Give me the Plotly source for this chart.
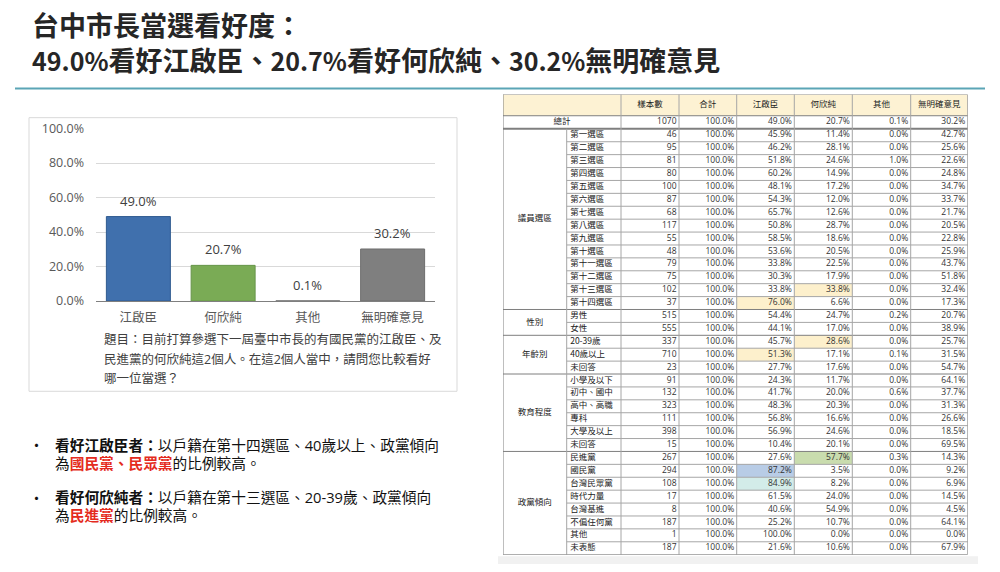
import plotly.graph_objects as go

# ---------------- data ----------------
CANDIDATES = ["江啟臣", "何欣純", "其他", "無明確意見"]
OVERALL = [49.0, 20.7, 0.1, 30.2]
BAR_COLORS = ["#4070ad", "#7aab55", "#7f7f7f", "#7f7f7f"]
BAR_EDGES = ["#2f5a8f", "#67954a", "#6e6e6e", "#6e6e6e"]

HEADERS = ["樣本數", "合計", "江啟臣", "何欣純", "其他", "無明確意見"]
TOTAL_ROW = ["1070", "100.0%", "49.0%", "20.7%", "0.1%", "30.2%"]

GROUP_NAMES = ["議員選區", "性別", "年齡別", "教育程度", "政黨傾向"]
GROUP_SIZES = [14, 2, 3, 6, 8]

ROW_LABELS = ["第一選區", "第二選區", "第三選區", "第四選區", "第五選區", "第六選區", "第七選區",
              "第八選區", "第九選區", "第十選區", "第十一選區", "第十二選區", "第十三選區", "第十四選區",
              "男性", "女性",
              "20-39歲", "40歲以上", "未回答",
              "小學及以下", "初中、國中", "高中、高職", "專科", "大學及以上", "未回答",
              "民進黨", "國民黨", "台灣民眾黨", "時代力量", "台灣基進", "不偏任何黨", "其他", "未表態"]
SAMPLE_N = [46, 95, 81, 80, 100, 87, 68, 117, 55, 48, 79, 75, 102, 37,
            515, 555,
            337, 710, 23,
            91, 132, 323, 111, 398, 15,
            267, 294, 108, 17, 8, 187, 1, 187]
TOTAL_PCT = [100.0] * 33
JIANG = [45.9, 46.2, 51.8, 60.2, 48.1, 54.3, 65.7, 50.8, 58.5, 53.6, 33.8, 30.3, 33.8, 76.0,
         54.4, 44.1,
         45.7, 51.3, 27.7,
         24.3, 41.7, 48.3, 56.8, 56.9, 10.4,
         27.6, 87.2, 84.9, 61.5, 40.6, 25.2, 100.0, 21.6]
HE = [11.4, 28.1, 24.6, 14.9, 17.2, 12.0, 12.6, 28.7, 18.6, 20.5, 22.5, 17.9, 33.8, 6.6,
      24.7, 17.0,
      28.6, 17.1, 17.6,
      11.7, 20.0, 20.3, 16.6, 24.6, 20.1,
      57.7, 3.5, 8.2, 24.0, 54.9, 10.7, 0.0, 10.6]
OTHER = [0.0, 0.0, 1.0, 0.0, 0.0, 0.0, 0.0, 0.0, 0.0, 0.0, 0.0, 0.0, 0.0, 0.0,
         0.2, 0.0,
         0.0, 0.1, 0.0,
         0.0, 0.6, 0.0, 0.0, 0.0, 0.0,
         0.3, 0.0, 0.0, 0.0, 0.0, 0.0, 0.0, 0.0]
NONE = [42.7, 25.6, 22.6, 24.8, 34.7, 33.7, 21.7, 20.5, 22.8, 25.9, 43.7, 51.8, 32.4, 17.3,
        20.7, 38.9,
        25.7, 31.5, 54.7,
        64.1, 37.7, 31.3, 26.6, 18.5, 69.5,
        14.3, 9.2, 6.9, 14.5, 4.5, 64.1, 0.0, 67.9]

# highlighted cells: (row index, column index in HEADERS, colour)
HIGHLIGHTS = [(12, 3, "#fdf0cc"), (13, 2, "#fdf0cc"), (16, 3, "#fdf0cc"), (17, 2, "#fdf0cc"),
              (25, 3, "#c9dcae"), (26, 2, "#b8cce6"), (27, 2, "#d3ece9")]

QUESTION = ["題目：目前打算參選下一屆臺中市長的有國民黨的江啟臣、及",
            "民進黨的何欣純這2個人。在這2個人當中，請問您比較看好",
            "哪一位當選？"]

# ---------------- layout constants ----------------
W, H = 1000, 572
CJK = "Noto Sans CJK TC"
NUM = "Open Sans, Noto Sans CJK TC"
def py(px):
    return 1 - px / H

COL_EDGES = [0, 63.7, 118, 176, 233.7, 291.3, 349.3, 407.7, 464.7]
HEAD_H, TOT_H, ROW_H = 22, 13.5, 13.3
TABLE_H = HEAD_H + TOT_H + ROW_H * len(ROW_LABELS)

fig = go.Figure()

# ---------------- bar chart ----------------
fig.add_trace(go.Bar(x=CANDIDATES, y=OVERALL, marker=dict(color=BAR_COLORS, line=dict(color=BAR_EDGES, width=1)),
                     xaxis="x", yaxis="y", hoverinfo="skip"))
annotations = []
for c, v in zip(CANDIDATES, OVERALL):
    annotations.append(dict(x=c, y=v, xref="x", yref="y", text=f"{v:.1f}%", showarrow=False,
                            yanchor="bottom", yshift=5, font=dict(family=NUM, size=13, color="#404040")))

# ---------------- table ----------------
def row_top(i):
    return HEAD_H + TOT_H + i * ROW_H

def cx(c):
    return (COL_EDGES[c] + COL_EDGES[c + 1]) / 2

shapes = []
# header fill
shapes.append(dict(type="rect", xref="x2", yref="y2", x0=COL_EDGES[0], x1=COL_EDGES[-1], y0=0, y1=HEAD_H,
                   fillcolor="#fdf2d3", line=dict(width=0), layer="below"))
for r, c, col in HIGHLIGHTS:
    shapes.append(dict(type="rect", xref="x2", yref="y2", x0=COL_EDGES[c + 2], x1=COL_EDGES[c + 3],
                       y0=row_top(r), y1=row_top(r) + ROW_H, fillcolor=col, line=dict(width=0), layer="below"))

LINE_C = "#a6a6a6"
GROUP_C = "#7f7f7f"
# horizontal lines
shapes.append(dict(type="line", xref="x2", yref="y2", x0=COL_EDGES[0], x1=COL_EDGES[-1], y0=HEAD_H, y1=HEAD_H,
                   line=dict(color=GROUP_C, width=1)))
shapes.append(dict(type="line", xref="x2", yref="y2", x0=COL_EDGES[0], x1=COL_EDGES[-1], y0=HEAD_H + TOT_H,
                   y1=HEAD_H + TOT_H, line=dict(color=GROUP_C, width=2)))
start = 0
group_bounds = []
for n in GROUP_SIZES:
    group_bounds.append((start, start + n))
    start += n
for g0, g1 in group_bounds:
    for i in range(g0 + 1, g1):
        shapes.append(dict(type="line", xref="x2", yref="y2", x0=COL_EDGES[1], x1=COL_EDGES[-1],
                           y0=row_top(i), y1=row_top(i), line=dict(color=LINE_C, width=1)))
    if g1 < len(ROW_LABELS):
        shapes.append(dict(type="line", xref="x2", yref="y2", x0=COL_EDGES[0], x1=COL_EDGES[-1],
                           y0=row_top(g1), y1=row_top(g1), line=dict(color=GROUP_C, width=1)))
# vertical lines
for k, e in enumerate(COL_EDGES):
    y0 = HEAD_H + TOT_H if k == 1 else 0
    shapes.append(dict(type="line", xref="x2", yref="y2", x0=e, x1=e, y0=y0, y1=TABLE_H,
                       line=dict(color=GROUP_C if k in (0, len(COL_EDGES) - 1) else LINE_C, width=1)))
shapes.append(dict(type="line", xref="x2", yref="y2", x0=COL_EDGES[0], x1=COL_EDGES[-1], y0=TABLE_H, y1=TABLE_H,
                   line=dict(color=GROUP_C, width=1)))
shapes.append(dict(type="line", xref="x2", yref="y2", x0=COL_EDGES[0], x1=COL_EDGES[-1], y0=0, y1=0,
                   line=dict(color=GROUP_C, width=1)))

TXT = dict(family=CJK, size=8.5, color="#222222")
TXTN = dict(family=NUM, size=8.5, color="#333333")
# header texts
fig.add_trace(go.Scatter(x=[cx(c + 2) for c in range(len(HEADERS))], y=[HEAD_H / 2] * len(HEADERS),
                         text=HEADERS, mode="text", textposition="middle center", textfont=TXT,
                         xaxis="x2", yaxis="y2", hoverinfo="skip"))
# total row
fig.add_trace(go.Scatter(x=[COL_EDGES[2] / 2], y=[HEAD_H + TOT_H / 2], text=["總計"], mode="text",
                         textposition="middle center", textfont=TXT, xaxis="x2", yaxis="y2", hoverinfo="skip"))
fig.add_trace(go.Scatter(x=[COL_EDGES[c + 3] - 2.5 for c in range(len(TOTAL_ROW))],
                         y=[HEAD_H + TOT_H / 2] * len(TOTAL_ROW), text=TOTAL_ROW, mode="text",
                         textposition="middle left", textfont=TXTN, xaxis="x2", yaxis="y2", hoverinfo="skip"))
# group labels
fig.add_trace(go.Scatter(x=[cx(0)] * len(GROUP_NAMES),
                         y=[(row_top(g0) + row_top(g1)) / 2 for g0, g1 in group_bounds],
                         text=GROUP_NAMES, mode="text", textposition="middle center", textfont=TXT,
                         xaxis="x2", yaxis="y2", hoverinfo="skip"))
centers = [row_top(i) + ROW_H / 2 for i in range(len(ROW_LABELS))]
fig.add_trace(go.Scatter(x=[COL_EDGES[1] + 3.5] * len(ROW_LABELS), y=centers, text=ROW_LABELS, mode="text",
                         textposition="middle right", textfont=TXT, xaxis="x2", yaxis="y2", hoverinfo="skip"))
columns = [[str(v) for v in SAMPLE_N]] + [[f"{v:.1f}%" for v in col] for col in (TOTAL_PCT, JIANG, HE, OTHER, NONE)]
for c, vals in enumerate(columns):
    fig.add_trace(go.Scatter(x=[COL_EDGES[c + 3] - 2.5] * len(vals), y=centers, text=vals, mode="text",
                             textposition="middle left", textfont=TXTN, xaxis="x2", yaxis="y2", hoverinfo="skip"))

# ---------------- page decorations ----------------
shapes.append(dict(type="line", xref="paper", yref="paper", x0=15 / W, x1=985 / W, y0=py(82), y1=py(82),
                   line=dict(color="#5ba5b6", width=2)))
shapes.append(dict(type="rect", xref="paper", yref="paper", x0=29 / W, x1=457 / W, y0=py(394), y1=py(112),
                   line=dict(color="#d9d9d9", width=1), fillcolor="rgba(0,0,0,0)"))
shapes.append(dict(type="rect", xref="paper", yref="paper", x0=498 / W, x1=978 / W, y0=0, y1=py(564),
                   line=dict(width=0), fillcolor="#f1f1f1", layer="below"))

NUMSPAN = "<span style='font-size:25px'>{}</span>"
title = ("<b>台中市長當選看好度：<br>"
         + NUMSPAN.format("49.0%") + "看好江啟臣、" + NUMSPAN.format("20.7%") + "看好何欣純、"
         + NUMSPAN.format("30.2%") + "無明確意見</b>")
annotations.append(dict(x=30 / W, y=py(33.5), xref="paper", yref="paper", xanchor="left", yanchor="middle",
                        align="left", text=title, showarrow=False,
                        font=dict(family=CJK, size=27, color="#262626")))
for i, line in enumerate(QUESTION):
    annotations.append(dict(x=102 / W, y=py(341 + 20 * i), xref="paper", yref="paper", xanchor="left",
                            yanchor="middle", text=line, showarrow=False,
                            font=dict(family=NUM, size=12.5, color="#404040")))

RED = "#e42b20"
bullets = [
    ("<b>看好江啟臣者：</b>以戶籍在第十四選區、40歲以上、政黨傾向",
     f"為<b><span style='color:{RED}'>國民黨、民眾黨</span></b>的比例較高。", 449),
    ("<b>看好何欣純者：</b>以戶籍在第十三選區、20-39歲、政黨傾向",
     f"為<b><span style='color:{RED}'>民進黨</span></b>的比例較高。", 503),
]
for l1, l2, y in bullets:
    annotations.append(dict(x=27 / W, y=py(y), xref="paper", yref="paper", xanchor="left", yanchor="middle",
                            text="•", showarrow=False, font=dict(family=CJK, size=15, color="#111111")))
    annotations.append(dict(x=53 / W, y=py(y), xref="paper", yref="paper", xanchor="left", yanchor="middle",
                            text=l1, showarrow=False, font=dict(family=NUM, size=14.7, color="#111111")))
    annotations.append(dict(x=53 / W, y=py(y + 19), xref="paper", yref="paper", xanchor="left", yanchor="middle",
                            text=l2, showarrow=False, font=dict(family=NUM, size=14.7, color="#111111")))

fig.update_layout(
    width=W, height=H, margin=dict(l=0, r=0, t=0, b=0),
    paper_bgcolor="white", plot_bgcolor="rgba(0,0,0,0)", showlegend=False, bargap=0.245,
    xaxis=dict(domain=[96 / W, 435 / W], showgrid=False, showline=True, linecolor="#7f7f7f", linewidth=1,
               ticks="", ticklabelstandoff=5, tickfont=dict(family=CJK, size=12.5, color="#595959"),
               fixedrange=True),
    yaxis=dict(domain=[py(301), py(123.3)], range=[0, 100], dtick=20, tickformat=".1f", ticksuffix="%",
               gridcolor="#d9d9d9", zeroline=False, showline=False, ticks="", ticklabelstandoff=11,
               tickfont=dict(family=NUM, size=12.5, color="#595959"), fixedrange=True),
    xaxis2=dict(domain=[503 / W, 967.7 / W], range=[0, COL_EDGES[-1]], visible=False, fixedrange=True),
    yaxis2=dict(domain=[py(88 + TABLE_H), py(88)], range=[TABLE_H, 0], visible=False, fixedrange=True),
    shapes=shapes, annotations=annotations,
)

fig.write_html("out.html")
